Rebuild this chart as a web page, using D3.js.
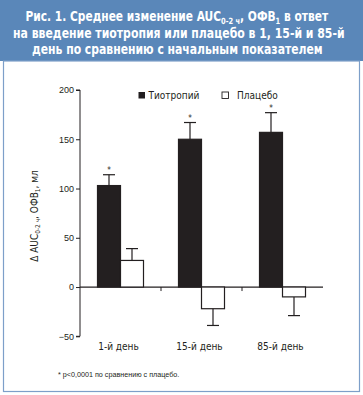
<!DOCTYPE html>
<meta charset="utf-8">
<style>
  body { margin: 0; background: #fff; }
  text { font-family: "Liberation Sans Narrow", "Arial Narrow", "DejaVu Sans Condensed", sans-serif; }
</style>
<body>
<div class="chart"></div>
<script src="https://d3js.org/d3.v7.min.js"></script>
<script>
    // data
    const days = ["1-й день", "15-й день", "85-й день"];
    const series = ["Тиотропий", "Плацебо"];
    const tiotropium = [103, 150, 157];
    const tiotropiumErr = [11, 17, 20];
    const placebo = [27, -22, -10];
    const placeboErr = [12, 17, 19];
    const yTicks = [-50, 0, 50, 100, 150, 200];

    const W = 363, H = 395;
    const blue = "#5a87b9";
    const dark = "#231f20";

    let svg = d3.select(".chart").append("svg")
        .attr("width", W).attr("height", H);

    // title box
    svg.append("rect").attr("x", 0).attr("y", 0).attr("width", W).attr("height", 61).attr("fill", blue);
    svg.append("rect").attr("x", 3.5).attr("y", 61).attr("width", 356).attr("height", 330.5)
        .attr("fill", "none").attr("stroke", "#7d9fc9").attr("stroke-width", 1.2);

    // title lines: squeezed horizontally to the condensed width of the original
    let titleFont = "'DejaVu Sans Condensed', 'Liberation Sans Narrow', sans-serif";
    let titleLines = [
        {cx: 177, y: 21, w: 303},
        {cx: 179, y: 37.5, w: 332},
        {cx: 177.5, y: 54, w: 291}
    ];
    let tl = titleLines.map(l => svg.append("g")
        .append("text").attr("x", 0).attr("y", 0)
        .attr("fill", "#fff").attr("font-weight", "bold")
        .style("font-family", titleFont).attr("font-size", 13.5));
    tl[0].append("tspan").text("Рис. 1. Среднее изменение AUC");
    tl[0].append("tspan").attr("font-size", 8.5).attr("dy", 3).text("0-2 ч");
    tl[0].append("tspan").attr("dy", -3).text(", ОФВ");
    tl[0].append("tspan").attr("font-size", 8.5).attr("dy", 3).text("1");
    tl[0].append("tspan").attr("dy", -3).text(" в ответ");
    tl[1].text("на введение тиотропия или плацебо в 1, 15-й и 85-й");
    tl[2].text("день по сравнению с начальным показателем");
    tl.forEach((t, i) => {
        let len = t.node().getComputedTextLength();
        let s = titleLines[i].w / len;
        d3.select(t.node().parentNode)
            .attr("transform", `translate(${titleLines[i].cx - titleLines[i].w / 2},${titleLines[i].y}) scale(${s},1)`);
    });

    // scales
    let y = d3.scaleLinear().domain([-50, 200]).range([336.3, 90]);
    let x0 = d3.scaleBand().domain(days).range([80, 323]).paddingInner(0).paddingOuter(0);
    let x1 = d3.scaleBand().domain(series).range([0, 46]).padding(0);
    let xOff = 17.5;

    // y axis
    let yAxis = svg.append("g").attr("transform", "translate(80,0)")
        .call(d3.axisLeft(y).tickValues(yTicks).tickSize(4).tickPadding(2));
    yAxis.select(".domain").attr("stroke", dark).attr("d", `M-4,${y(200)}H0V${y(-50)}H-4`);
    yAxis.selectAll(".tick line").attr("stroke", dark);
    yAxis.selectAll(".tick text").attr("font-size", 9).attr("fill", dark)
        .style("font-family", "'Liberation Sans Narrow', sans-serif");

    // zero line with category separator ticks
    svg.append("line").attr("x1", 80).attr("x2", 323).attr("y1", y(0)).attr("y2", y(0))
        .attr("stroke", dark).attr("stroke-width", 1.2);
    svg.selectAll(".sep").data(days.slice(1)).join("line")
        .attr("x1", d => x0(d)).attr("x2", d => x0(d))
        .attr("y1", y(0)).attr("y2", y(0) + 4).attr("stroke", dark);

    // bars
    let rows = days.map((d, i) => [
        {day: d, s: series[0], v: tiotropium[i], e: tiotropiumErr[i], star: true},
        {day: d, s: series[1], v: placebo[i], e: placeboErr[i], star: false}
    ]).flat();

    let g = svg.append("g");
    g.selectAll("rect.bar").data(rows).join("rect")
        .attr("class", "bar")
        .attr("x", d => x0(d.day) + xOff + x1(d.s))
        .attr("width", x1.bandwidth())
        .attr("y", d => y(Math.max(0, d.v)))
        .attr("height", d => Math.abs(y(d.v) - y(0)))
        .attr("fill", d => d.s === series[0] ? dark : "#fff")
        .attr("stroke", dark).attr("stroke-width", 1.2);

    // one-sided error bars
    let cx = d => x0(d.day) + xOff + x1(d.s) + x1.bandwidth() / 2;
    let tip = d => d.v >= 0 ? y(d.v + d.e) : y(d.v - d.e);
    g.selectAll("line.err").data(rows).join("line").attr("class", "err")
        .attr("x1", cx).attr("x2", cx)
        .attr("y1", d => y(d.v)).attr("y2", tip)
        .attr("stroke", dark).attr("stroke-width", 1.2);
    g.selectAll("line.cap").data(rows).join("line").attr("class", "cap")
        .attr("x1", d => cx(d) - 6).attr("x2", d => cx(d) + 6)
        .attr("y1", tip).attr("y2", tip)
        .attr("stroke", dark).attr("stroke-width", 1.2);
    g.selectAll("text.star").data(rows.filter(d => d.star)).join("text").attr("class", "star")
        .attr("x", cx).attr("y", d => tip(d) - 1.5)
        .attr("text-anchor", "middle").attr("font-size", 8).attr("fill", dark)
        .text("*");

    // category labels
    svg.selectAll("text.cat").data(days).join("text").attr("class", "cat")
        .attr("x", d => x0(d) + xOff + 21)
        .attr("y", 350)
        .attr("text-anchor", "middle").attr("font-size", 10).attr("fill", dark)
        .text(d => d);

    // legend
    let leg = svg.append("g").attr("font-size", 10).attr("fill", dark);
    let legX = [138.5, 222];
    series.forEach((s, i) => {
        leg.append("rect").attr("x", legX[i]).attr("y", 92).attr("width", 6.5).attr("height", 6.5)
            .attr("fill", i === 0 ? dark : "#fff").attr("stroke", dark).attr("stroke-width", i === 0 ? 0 : 0.9);
        leg.append("text").attr("x", legX[i] + (i === 0 ? 10 : 15)).attr("y", 98.5).text(s);
    });

    // y label
    let yl = svg.append("text").attr("transform", "translate(38,216) rotate(-90)")
        .attr("text-anchor", "middle").attr("font-size", 10).attr("fill", dark);
    yl.append("tspan").text("Δ AUC");
    yl.append("tspan").attr("font-size", 6.5).attr("dy", 2).text("0-2 ч");
    yl.append("tspan").attr("dy", -2).text(", ОФВ");
    yl.append("tspan").attr("font-size", 6.5).attr("dy", 2).text("1");
    yl.append("tspan").attr("dy", -2).text(", мл");

    // footnote
    svg.append("text").attr("x", 58).attr("y", 377).attr("font-size", 7.2).attr("fill", dark)
        .style("font-family", "'Liberation Sans', sans-serif")
        .text("* p<0,0001 по сравнению с плацебо.");
</script>
